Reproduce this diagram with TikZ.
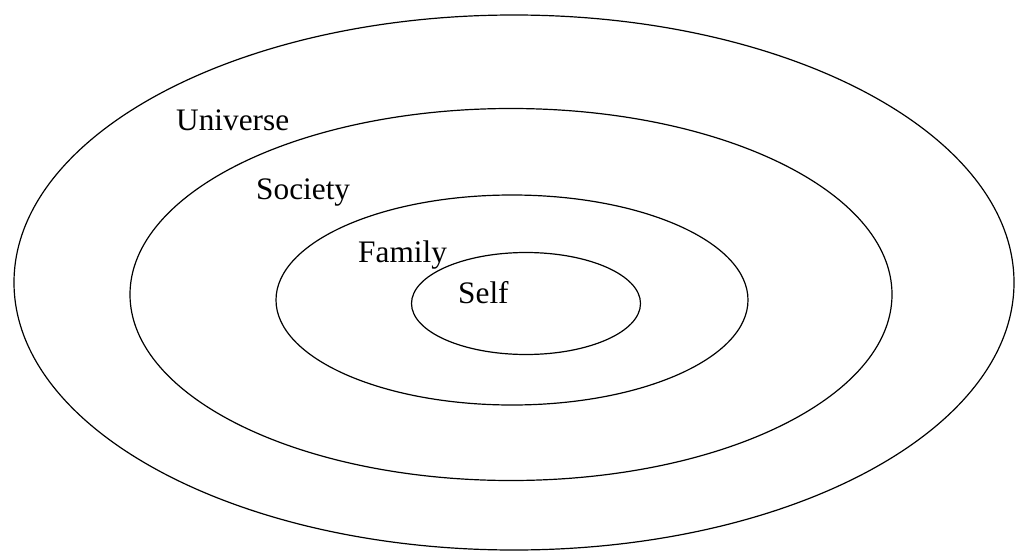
\documentclass[tikz,border=0pt]{standalone}
\usepackage{fontspec}
\setmainfont{Liberation Serif}
\usetikzlibrary{shapes.geometric}
\begin{document}
\begin{tikzpicture}[x=1pt,y=-1pt,
  ring/.style={draw=black, line width=1.2pt, ellipse, inner sep=0pt, outer sep=0pt},
  lbl/.style={anchor=base west, inner sep=0pt, font=\fontsize{31.3}{36}\selectfont}]
\useasboundingbox (0,0) rectangle (1017,551);
\node[ring, minimum width=1000pt, minimum height=535pt] (universe) at (514,282.5) {};
\node[ring, minimum width=762pt, minimum height=372pt] (society) at (511,294.5) {};
\node[ring, minimum width=472pt, minimum height=210pt] (family) at (512,300) {};
\node[ring, minimum width=229pt, minimum height=102pt] (self) at (526,303.5) {};
\node[lbl] (tuniverse) at (176,130) {Universe};
\node[lbl] (tsociety) at (256,199) {Society};
\node[lbl] (tfamily) at (358,262) {Family};
\node[lbl] (tself) at (458,303) {Self};
\end{tikzpicture}
\end{document}
